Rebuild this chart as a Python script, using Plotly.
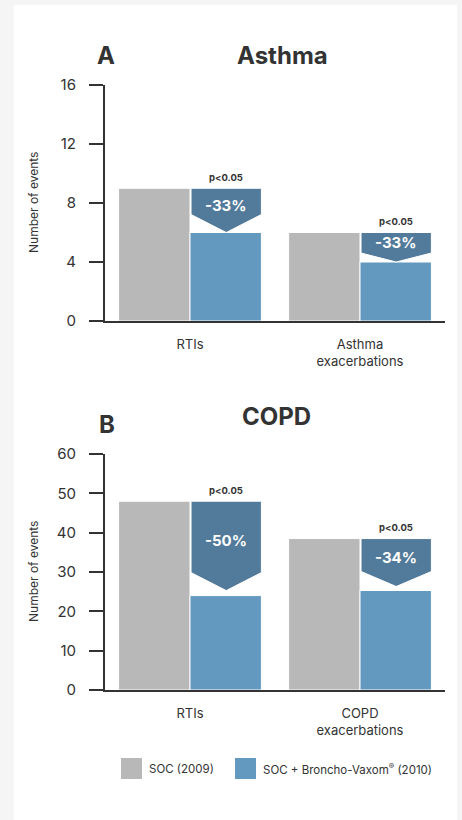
import plotly.graph_objects as go

# ---------------- data ----------------
categories_A = ["RTIs", "Asthma<br>exacerbations"]
soc_A = [9, 6]
bv_A = [6, 4]
pct_A = ["-33%", "-33%"]

categories_B = ["RTIs", "COPD<br>exacerbations"]
soc_B = [48, 38.5]
bv_B = [24, 25.3]
pct_B = ["-50%", "-34%"]

p_labels = ["p<0.05", "p<0.05"]
series_names = ["SOC (2009)", "SOC + Broncho-Vaxom<sup>®</sup> (2010)"]
yticks_A = [0, 4, 8, 12, 16]
yticks_B = [0, 10, 20, 30, 40, 50, 60]

# ---------------- style ----------------
W, H = 462, 820
GRAY = "#b8b8b8"
BLUE = "#6399be"
DARK = "#527a9a"
TXT = "#333333"
FONT = "Inter"
BARGAP = 0.16
XL, XR = 105, 445
A_TOP, A_BOT = 85, 321
B_TOP, B_BOT = 454, 690


def px_x(p):
    return p / W


def px_y(p):
    return 1 - p / H


fig = go.Figure()

for (cats, soc, bv, xa, ya) in [(categories_A, soc_A, bv_A, "x", "y"),
                                (categories_B, soc_B, bv_B, "x2", "y2")]:
    fig.add_trace(go.Bar(x=cats, y=soc, name=series_names[0], marker_color=GRAY,
                         marker_line=dict(color="white", width=1),
                         xaxis=xa, yaxis=ya, showlegend=False))
    fig.add_trace(go.Bar(x=cats, y=bv, name=series_names[1], marker_color=BLUE,
                         marker_line=dict(color="white", width=1),
                         xaxis=xa, yaxis=ya, showlegend=False))

shapes = []
annotations = []

# white panel
shapes.append(dict(type="rect", xref="paper", yref="paper", x0=px_x(14), x1=px_x(457),
                   y0=0, y1=px_y(5), fillcolor="white", line_width=0, layer="below"))

half = (1 - BARGAP) / 2


def arrows(soc, bv, pct, xr, yr, ymax, top_px, bot_px, tri_px, gap_px):
    unit = ymax / (bot_px - top_px)  # data units per pixel
    for i in range(len(soc)):
        x0 = i + 0.006
        x1 = i + half
        xc = (x0 + x1) / 2
        top = soc[i]
        tip = bv[i] + gap_px[i] * unit
        sh = tip + tri_px[i] * unit
        path = f"M {x0},{top} L {x1},{top} L {x1},{sh} L {xc},{tip} L {x0},{sh} Z"
        shapes.append(dict(type="path", xref=xr, yref=yr, path=path,
                           fillcolor=DARK, line=dict(color="white", width=1), layer="above"))
        annotations.append(dict(xref=xr, yref=yr, x=xc, y=(top + tip) / 2, yshift=5,
                                text=f"<b>{pct[i]}</b>", showarrow=False,
                                font=dict(family=FONT, size=15, color="white")))
        annotations.append(dict(xref=xr, yref=yr, x=xc, y=top, yshift=11,
                                text=f"<b>{p_labels[i]}</b>", showarrow=False,
                                font=dict(family=FONT, size=9.5, color=TXT)))


arrows(soc_A, bv_A, pct_A, "x", "y", 16, A_TOP, A_BOT, [18, 9], [0, 0])
arrows(soc_B, bv_B, pct_B, "x2", "y2", 60, B_TOP, B_BOT, [18, 15], [5, 4])

# panel titles
for txt, xp, yp in [("A", 106, 55), ("Asthma", 282, 55), ("B", 107, 424), ("COPD", 276, 416)]:
    annotations.append(dict(xref="paper", yref="paper", x=px_x(xp), y=px_y(yp),
                            text=f"<b>{txt}</b>", showarrow=False, xanchor="center",
                            yanchor="middle", font=dict(family=FONT, size=24, color=TXT)))

# y-axis titles
for yc in [(A_TOP + A_BOT) / 2, (B_TOP + B_BOT) / 2]:
    annotations.append(dict(xref="paper", yref="paper", x=px_x(33), y=px_y(yc),
                            text="Number of events", textangle=-90, showarrow=False,
                            xanchor="center", yanchor="middle",
                            font=dict(family=FONT, size=12, color=TXT)))

# legend (manual, large swatches)
for color, name, x0 in [(GRAY, series_names[0], 121), (BLUE, series_names[1], 235)]:
    shapes.append(dict(type="rect", xref="paper", yref="paper", x0=px_x(x0), x1=px_x(x0 + 21),
                       y0=px_y(779), y1=px_y(758), fillcolor=color, line_width=0))
    annotations.append(dict(xref="paper", yref="paper", x=px_x(x0 + 26), y=px_y(768.5),
                            text=name, showarrow=False, xanchor="left", yanchor="middle",
                            font=dict(family=FONT, size=11.5, color=TXT)))

yax_common = dict(showline=True, linecolor=TXT, linewidth=2, ticks="outside", ticklen=14,
                  tickwidth=2, tickcolor=TXT, showgrid=False, zeroline=False,
                  tickfont=dict(family=FONT, size=15, color=TXT), ticklabelstandoff=10,
                  fixedrange=True, automargin=False)
xax_common = dict(showline=True, linecolor=TXT, linewidth=2, ticks="", showgrid=False,
                  tickfont=dict(family=FONT, size=13, color=TXT), ticklabelstandoff=10,
                  range=[-0.5, 1.5], domain=[px_x(XL), px_x(XR)], automargin=False)

fig.update_layout(
    width=W, height=H,
    margin=dict(l=0, r=0, t=0, b=0, pad=0),
    paper_bgcolor="#f5f5f5", plot_bgcolor="rgba(0,0,0,0)",
    barmode="group", bargap=BARGAP, bargroupgap=0,
    showlegend=False,
    xaxis=dict(anchor="y", **xax_common),
    yaxis=dict(anchor="x", domain=[px_y(A_BOT), px_y(A_TOP)], range=[0, 16],
               tickvals=yticks_A, **yax_common),
    xaxis2=dict(anchor="y2", **xax_common),
    yaxis2=dict(anchor="x2", domain=[px_y(B_BOT), px_y(B_TOP)], range=[0, 60],
                tickvals=yticks_B, **yax_common),
    shapes=shapes,
    annotations=annotations,
    font=dict(family=FONT, color=TXT),
)

fig.write_html("out.html", config={"displayModeBar": False})
